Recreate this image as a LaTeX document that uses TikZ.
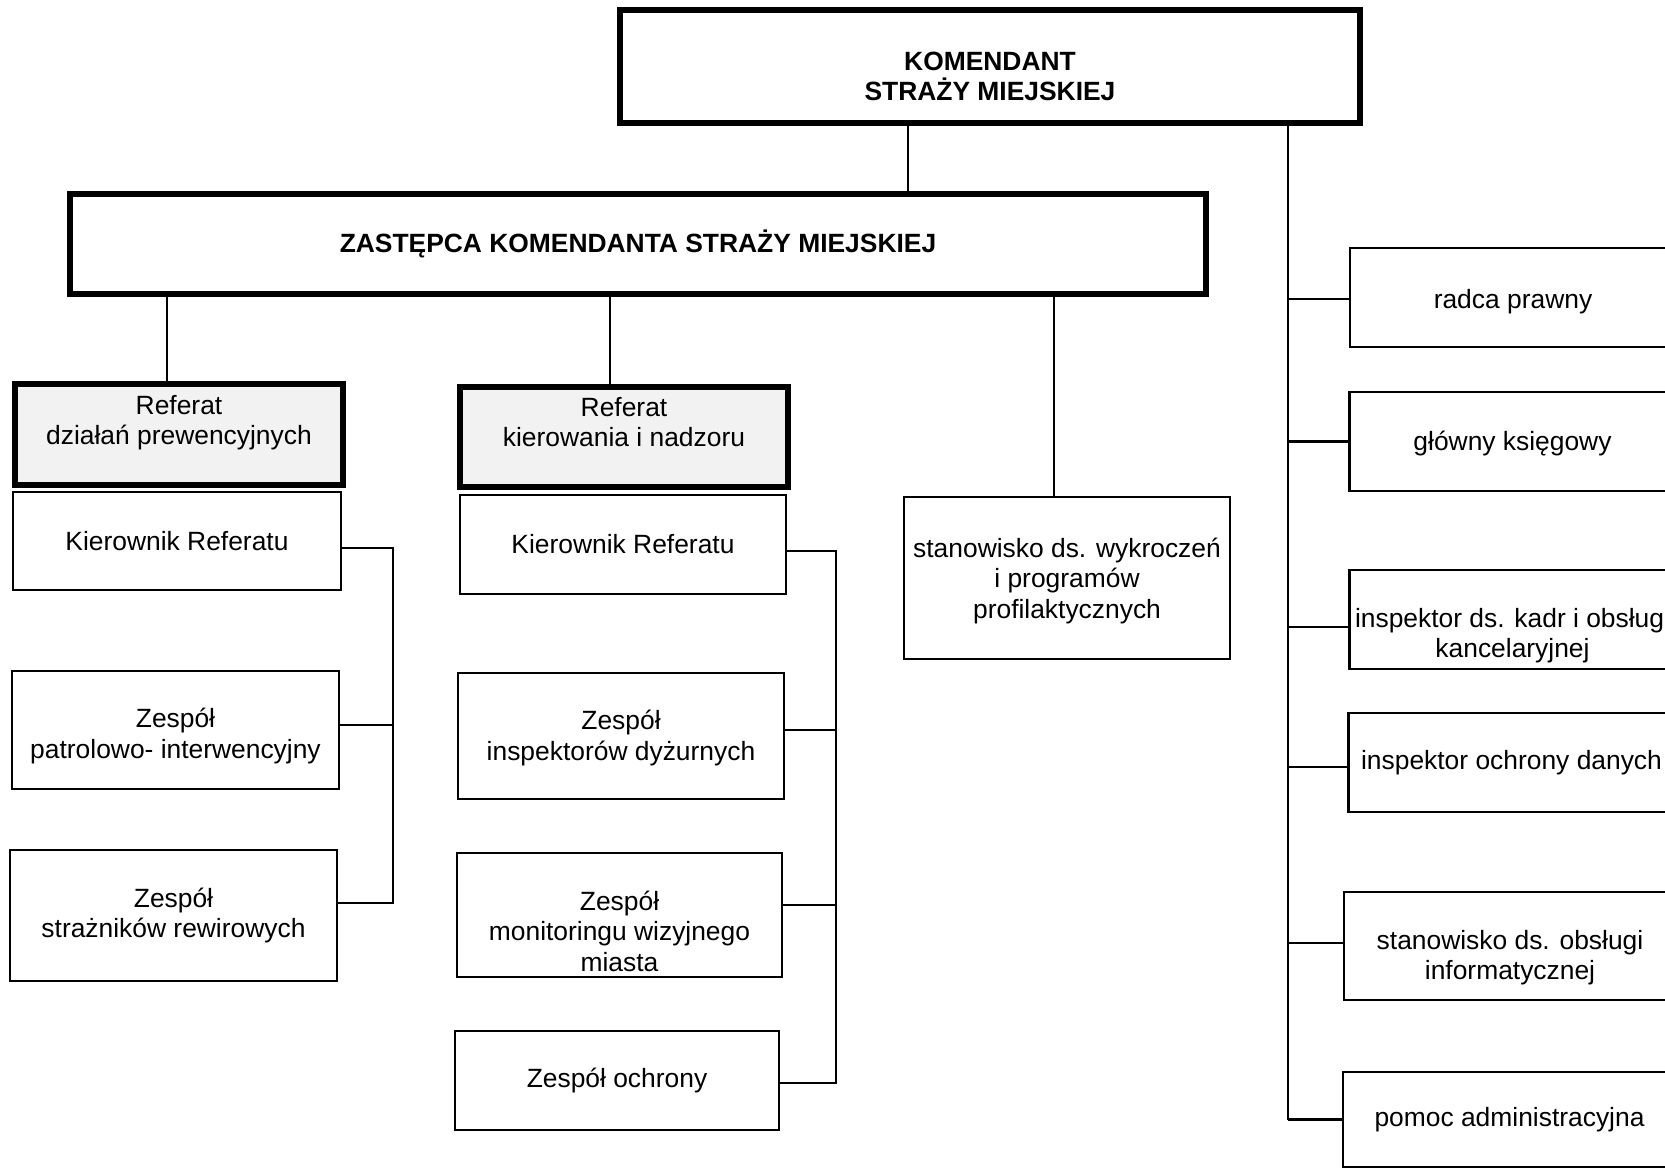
\documentclass[tikz,border=0pt]{standalone}
\usepackage{fontspec}
\setmainfont{Liberation Sans}
\newcommand{\mystrut}[1]{\rule{0pt}{#1pt}}
\begin{document}
\begin{tikzpicture}[x=1pt,y=-1pt,
  every node/.style={inner sep=0pt, outer sep=0pt, align=center,
    font=\fontsize{26.4pt}{30.5pt}\selectfont},
  box/.style={draw, line width=2.2pt},
  thickbox/.style={draw, line width=6.5pt, font=\fontsize{26.4pt}{30pt}\selectfont\bfseries},
  graybox/.style={draw, line width=6.5pt, fill=gray!10},
  conn/.style={line width=2.2pt}]
\useasboundingbox (0,0) rectangle (1665,1168);
\clip (0,0) rectangle (1665,1168);

% top
\node[thickbox, minimum width=740pt, minimum height=113pt] (kom) at (990,66.5) {\mystrut{38}KOMENDANT\\STRAŻY MIEJSKIEJ};
\node[thickbox, minimum width=1136pt, minimum height=100pt] (zas) at (638,244) {\mystrut{23}ZASTĘPCA KOMENDANTA STRAŻY MIEJSKIEJ};

% left column
\node[graybox, minimum width=328pt, minimum height=101pt] (ref1) at (179,434.5) {\mystrut{29.3}Referat\\działań prewencyjnych\\\strut};
\node[box, minimum width=328pt, minimum height=98pt] (k1) at (177,541) {Kierownik Referatu};
\node[box, minimum width=327pt, minimum height=118pt] (z1a) at (175.5,730) {\mystrut{31.3}Zespół\\patrolowo- interwencyjny};
\node[box, minimum width=327pt, minimum height=131pt] (z1b) at (173.5,915.5) {Zespół\\strażników rewirowych};

% middle column
\node[graybox, minimum width=328pt, minimum height=100pt] (ref2) at (624,437) {\mystrut{28.3}Referat\\kierowania i nadzoru\\\strut};
\node[box, minimum width=326pt, minimum height=99pt] (k2) at (623,544.5) {Kierownik Referatu};
\node[box, minimum width=326pt, minimum height=126pt] (z2a) at (621,736) {\mystrut{23.3}Zespół\\inspektorów dyżurnych};
\node[box, minimum width=325pt, minimum height=124pt] (z2b) at (619.5,915) {\strut\\Zespół\\monitoringu wizyjnego\\miasta};
\node[box, minimum width=324pt, minimum height=99pt] (z2c) at (617,1080.5) {Zespół ochrony};

% stanowisko
\node[box, minimum width=326pt, minimum height=162pt] (st) at (1067,578) {\mystrut{25.3}stanowisko ds. wykroczeń\\i programów\\profilaktycznych};

% right column
\node[box, minimum width=326pt, minimum height=99pt] (r1) at (1513,297.5) {\mystrut{27.3}radca prawny};
\node[box, minimum width=326pt, minimum height=99pt] (r2) at (1512.5,441.5) {\mystrut{23.3}główny księgowy};
\node[box, minimum width=326pt, minimum height=99pt] (r3) at (1512.5,619.5) {\strut\\inspektor ds. kadr i obsługi\\kancelaryjnej};
\node[box, minimum width=326pt, minimum height=99pt] (r4) at (1511.5,762.5) {inspektor ochrony danych};
\node[box, minimum width=332pt, minimum height=108pt] (r5) at (1510,946) {\mystrut{42.3}stanowisko ds. obsługi\\informatycznej};
\node[box, minimum width=333pt, minimum height=95pt] (r6) at (1509.5,1119.5) {pomoc administracyjna};

% spine coordinates
\coordinate (c1) at (908,0);
\coordinate (rs) at (1288,0);
\coordinate (la) at (167,0);
\coordinate (ma) at (610,0);
\coordinate (sa) at (1054,0);
\coordinate (ls) at (393,0);
\coordinate (ms) at (836,0);

% connectors from top
\draw[conn] (c1 |- kom.south) -- (c1 |- zas.north);
\draw[conn] (rs |- kom.south) -- (rs |- r6.west);
\draw[conn] (la |- zas.south) -- (la |- ref1.north);
\draw[conn] (ma |- zas.south) -- (ma |- ref2.north);
\draw[conn] (sa |- zas.south) -- (sa |- st.north);

% right branch
\draw[conn] (rs |- 0,299) -- (r1.west |- 0,299);
\draw[conn] (rs |- r2.west) -- (r2.west);
\draw[conn] (rs |- 0,627) -- (r3.west |- 0,627);
\draw[conn] (rs |- 0,767) -- (r4.west |- 0,767);
\draw[conn] (rs |- 0,943) -- (r5.west |- 0,943);
\draw[conn] (rs |- r6.west) -- (r6.west);

% left bracket
\draw[conn] (k1.east |- 0,548) -- (ls |- 0,548) -- (ls |- 0,903) -- (z1b.east |- 0,903);
\draw[conn] (z1a.east |- 0,725) -- (ls |- 0,725);

% middle bracket
\draw[conn] (k2.east |- 0,551) -- (ms |- 0,551) -- (ms |- 0,1083) -- (z2c.east |- 0,1083);
\draw[conn] (z2a.east |- 0,730) -- (ms |- 0,730);
\draw[conn] (z2b.east |- 0,905) -- (ms |- 0,905);
\end{tikzpicture}
\end{document}
